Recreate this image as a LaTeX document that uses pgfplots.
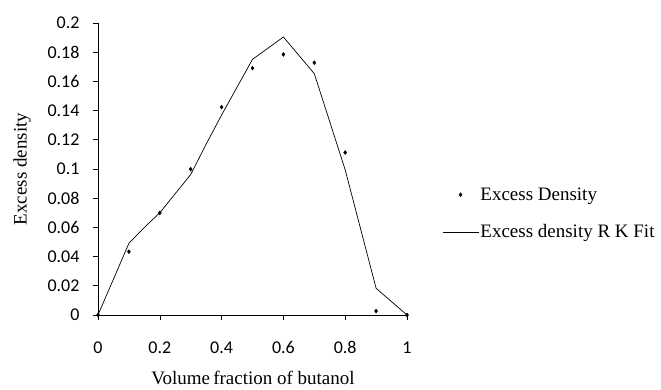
\documentclass[border=0pt]{standalone}
\usepackage{pgfplots}
\pgfplotsset{compat=1.18}
\usepackage{fontspec}
\setmainfont{Liberation Serif}
\newfontfamily\tickfont{Carlito}
\pgfplotsset{
  dotlegend/.style={legend image code/.code={\path[draw=none,fill=none] (0pt,0pt) rectangle (36pt,0.1pt); \path[##1] plot coordinates {(18pt,0pt)};}},
  linelegend/.style={legend image code/.code={\draw[##1] (0pt,0pt) -- (36pt,0pt);}},
}
\begin{document}
\begin{tikzpicture}[x=1pt,y=1pt]
\path[use as bounding box] (0,0) rectangle (661,390);
\begin{axis}[
  at={(98pt,75pt)}, anchor=south west,
  scale only axis, width=309pt, height=292pt,
  xmin=0, xmax=1, ymin=0, ymax=0.2,
  axis x line=bottom, axis y line=left,
  axis line style={-, black, line width=0.6pt},
  xtick={0,0.2,...,1}, ytick={0,0.02,...,0.2},
  xticklabels={0,0.2,0.4,0.6,0.8,1},
  yticklabels={0,0.02,0.04,0.06,0.08,0.1,0.12,0.14,0.16,0.18,0.2},
  tick align=outside, major tick length=5pt,
  tick style={black, line width=0.6pt},
  ticklabel style={font=\tickfont\fontsize{18}{20}\selectfont},
  xticklabel style={yshift=-18pt},
  yticklabel style={xshift=-10pt},
  xlabel={Volume\,fraction of butanol},
  ylabel={Excess density},
  label style={font=\fontsize{19}{22}\selectfont},
  every axis x label/.append style={at={(155pt,-63pt)}, anchor=center},
  every axis y label/.append style={at={(-76pt,146pt)}, anchor=center},
  legend style={at={(344pt,129pt)}, anchor=north west, draw=none, fill=none,
    font=\fontsize{19}{22}\selectfont, row sep=20pt, inner sep=0pt,
    nodes={inner sep=1.5pt}},
  legend cell align=left,
  clip=false,
]
\addplot[only marks, mark=diamond*, mark size=2pt, black, dotlegend]
  coordinates {
  (0,0) (0.1,0.0434) (0.2,0.0699) (0.3,0.0999) (0.4,0.1424) (0.5,0.1691)
  (0.6,0.1785) (0.7,0.1728) (0.8,0.1113) (0.9,0.0027) (1,0)
  };
\addlegendentry{Excess Density}
\addplot[black, line width=0.7pt, mark=none, linelegend]
  coordinates {
  (0,0) (0.1,0.0491) (0.15,0.0600) (0.2,0.0700) (0.3,0.0962) (0.35,0.1170) (0.4,0.1370) (0.5,0.1751)
  (0.6,0.1904) (0.7,0.1653) (0.8,0.0994) (0.9,0.0183) (1,0)
  };
\addlegendentry{Excess density R K Fit}
\end{axis}
\end{tikzpicture}
\end{document}
